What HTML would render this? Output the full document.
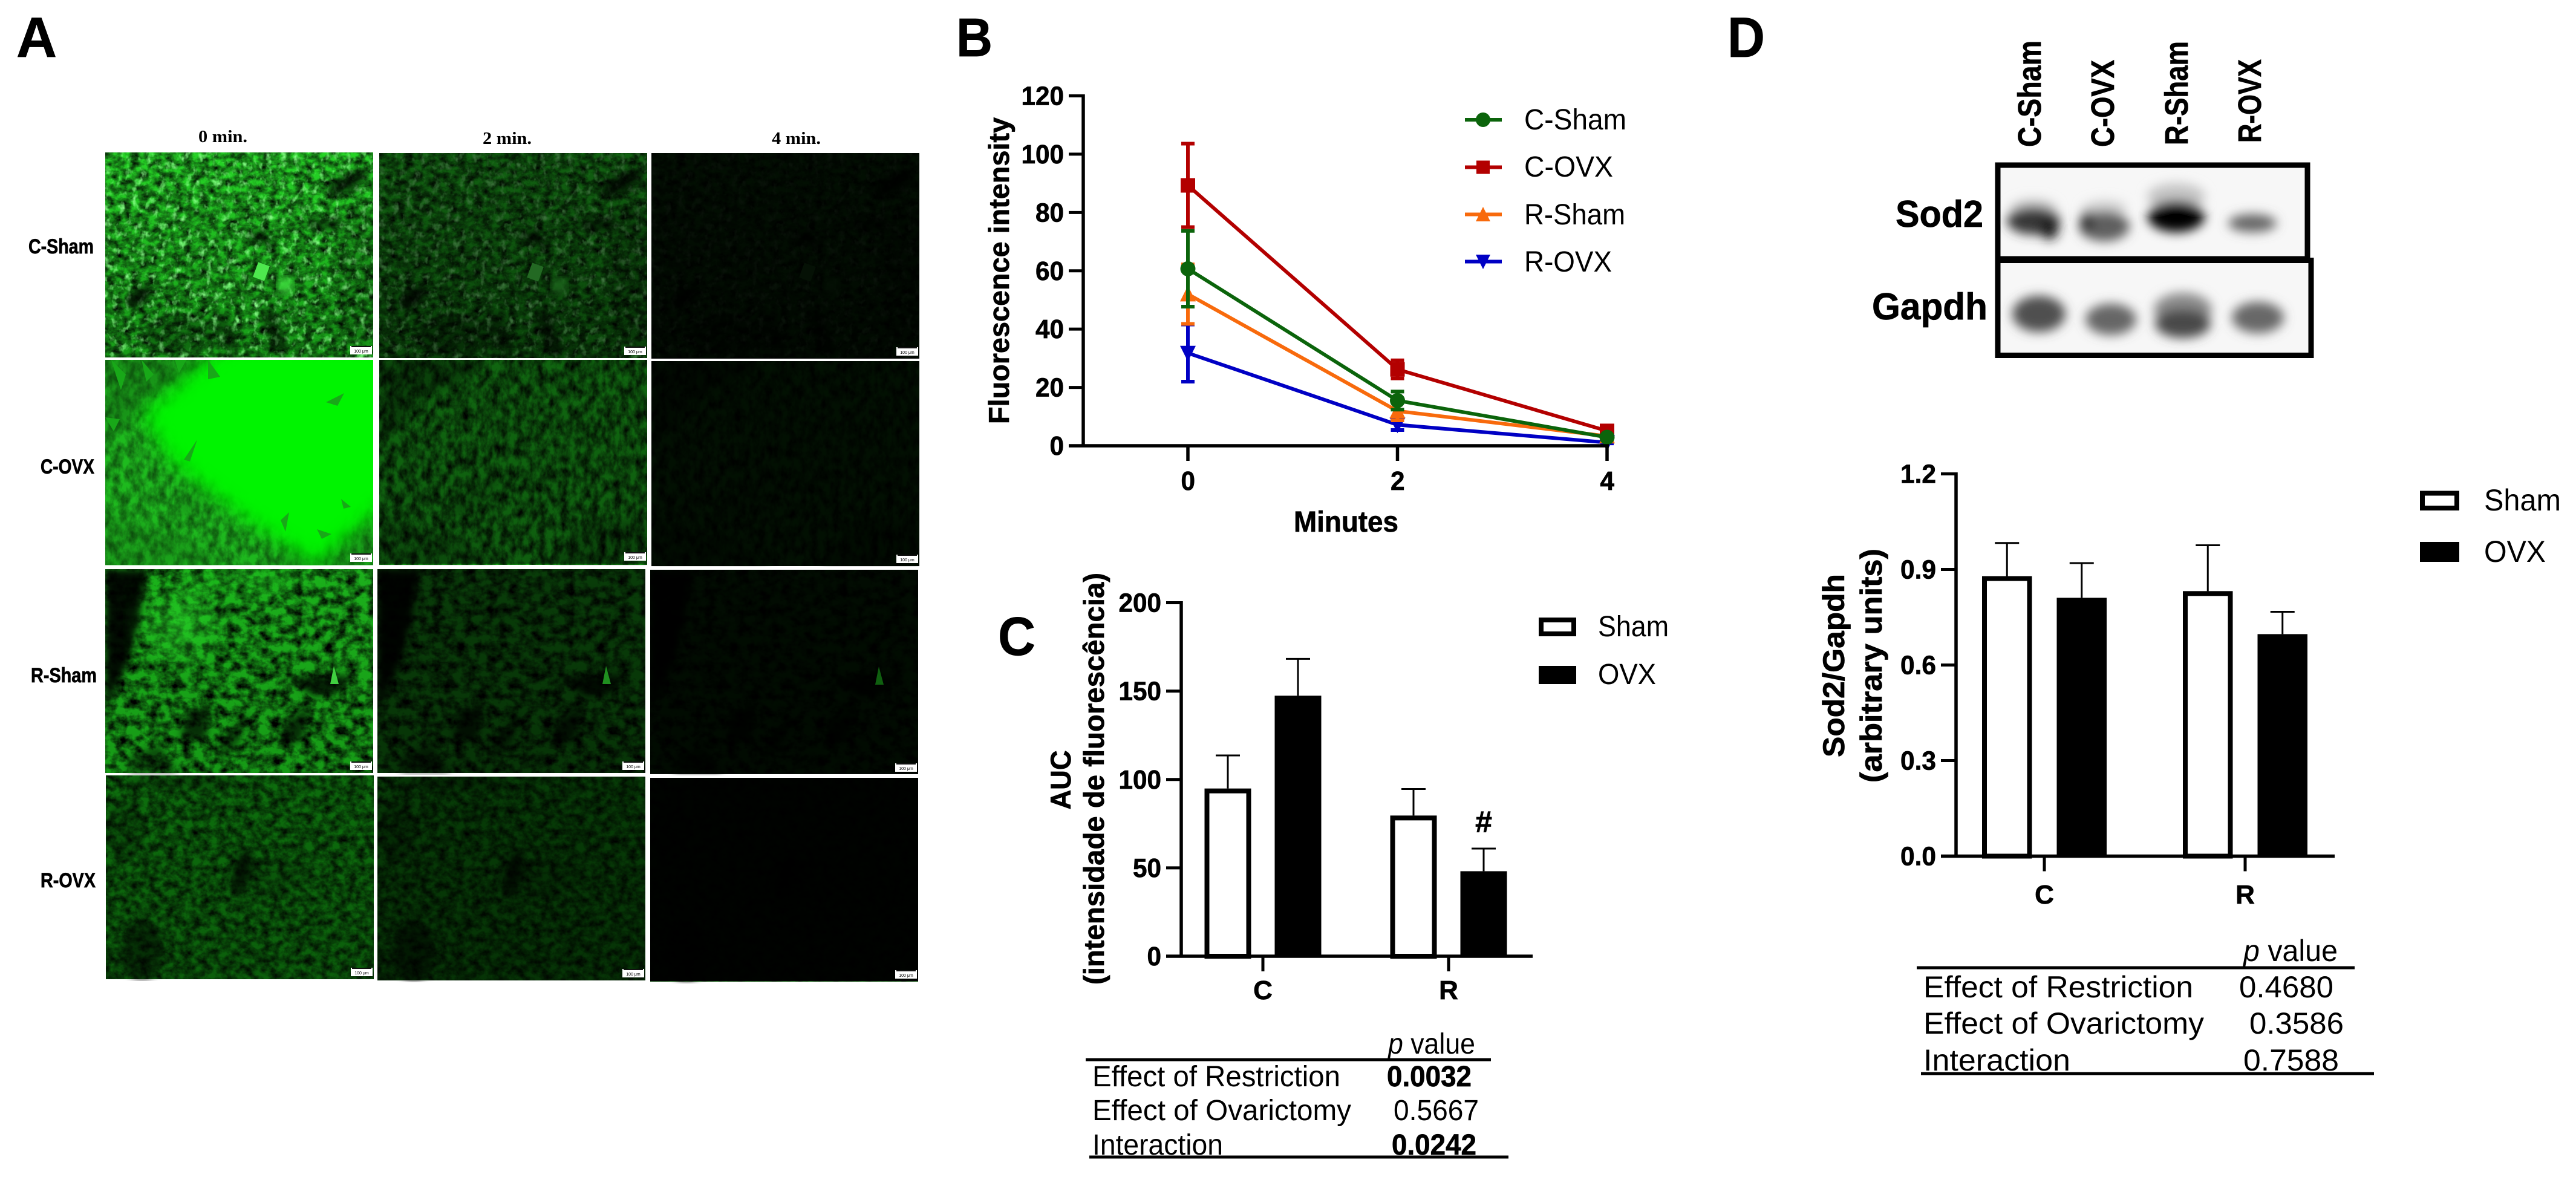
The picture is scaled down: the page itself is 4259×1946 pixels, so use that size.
<!DOCTYPE html>
<html lang="en">
<head>
<meta charset="utf-8">
<title>Fluorescence and Sod2 figure</title>
<style>
html,body{margin:0;padding:0;background:#fff;width:4259px;height:1946px;overflow:hidden}
svg{display:block}
text{font-family:"Liberation Sans",Arial,sans-serif;fill:#000}
.b{font-weight:700;stroke:#000;stroke-width:.7px}
.s{font-family:"Liberation Serif",serif;font-weight:700}
</style>
</head>
<body>
<svg id="fig" xmlns="http://www.w3.org/2000/svg" width="4259" height="1946" viewBox="0 0 4259 1946">
<defs>
<clipPath id="cp"><rect width="443" height="340"/></clipPath>
<filter id="noise" x="0" y="0" width="100%" height="100%"><feTurbulence type="fractalNoise" baseFrequency="0.07 0.09" numOctaves="4" seed="4"/><feColorMatrix type="matrix" values="0 0 0 0 0 0 0 0 0 0 0 0 0 0 0 1.6 0 0 0 -0.45"/></filter>
<filter id="spark" x="0" y="0" width="100%" height="100%"><feTurbulence type="fractalNoise" baseFrequency="0.09 0.07" numOctaves="3" seed="9"/><feColorMatrix type="matrix" values="0 0 0 0 0.25 0 0 0 0 1 0 0 0 0 0.25 0 3 0 0 -1.65"/></filter>
<filter id="noise2" x="0" y="0" width="100%" height="100%"><feTurbulence type="fractalNoise" baseFrequency="0.08 0.05" numOctaves="4" seed="11"/><feColorMatrix type="matrix" values="0 0 0 0 0 0 0 0 0 0 0 0 0 0 0 1.6 0 0 0 -0.45"/></filter>
<filter id="noise3" x="0" y="0" width="100%" height="100%"><feTurbulence type="fractalNoise" baseFrequency="0.055 0.065" numOctaves="4" seed="23"/><feColorMatrix type="matrix" values="0 0 0 0 0 0 0 0 0 0 0 0 0 0 0 2 0 0 0 -0.65"/></filter>
<filter id="noise4" x="0" y="0" width="100%" height="100%"><feTurbulence type="fractalNoise" baseFrequency="0.07 0.08" numOctaves="4" seed="37"/><feColorMatrix type="matrix" values="0 0 0 0 0 0 0 0 0 0 0 0 0 0 0 1.5 0 0 0 -0.4"/></filter>
<filter id="blur6"><feGaussianBlur stdDeviation="6"/></filter>
<filter id="blur9" x="-40%" y="-60%" width="180%" height="220%"><feGaussianBlur stdDeviation="9"/></filter>
<filter id="blur15" x="-30%" y="-30%" width="160%" height="160%"><feGaussianBlur stdDeviation="15"/></filter>
<filter id="blur25" x="-30%" y="-30%" width="160%" height="160%"><feGaussianBlur stdDeviation="25"/></filter>
<linearGradient id="g1" x1="0" y1="0" x2="0" y2="1"><stop offset="0" stop-color="#26d426"/><stop offset="1" stop-color="#189a18"/></linearGradient>
<linearGradient id="g2" x1="0" y1="0" x2="0" y2="1"><stop offset="0" stop-color="#1eb81e"/><stop offset="1" stop-color="#1cac1c"/></linearGradient>
<linearGradient id="g3" x1="0" y1="0" x2="0" y2="1"><stop offset="0" stop-color="#1cb01c"/><stop offset="1" stop-color="#169a16"/></linearGradient>
<linearGradient id="g4" x1="0" y1="0" x2="0" y2="1"><stop offset="0" stop-color="#0d6e0d"/><stop offset="1" stop-color="#0b5e0b"/></linearGradient>
<g id="t1">
<rect width="443" height="339" fill="url(#g1)"/>
<rect width="443" height="339" filter="url(#noise)"/>
<rect width="443" height="339" filter="url(#spark)"/>
<g filter="url(#blur6)">
<ellipse cx="400" cy="50" rx="40" ry="14" fill="#000" opacity=".75" transform="rotate(-28 400 50)"/>
<ellipse cx="362" cy="118" rx="30" ry="12" fill="#000" opacity=".55"/>
<path d="M225 135 L262 128 L285 165 L262 150Z" fill="#000" opacity=".7"/>
<ellipse cx="55" cy="239" rx="25" ry="13" fill="#000" opacity=".8" transform="rotate(-35 55 239)"/>
<ellipse cx="200" cy="300" rx="14" ry="38" fill="#000" opacity=".45" transform="rotate(-20 200 300)"/>
<ellipse cx="280" cy="295" rx="14" ry="42" fill="#000" opacity=".55" transform="rotate(-22 280 295)"/>
<ellipse cx="120" cy="300" rx="60" ry="35" fill="#000" opacity=".3"/>
<ellipse cx="420" cy="200" rx="40" ry="120" fill="#000" opacity=".2"/>
</g>
<rect x="248" y="184" width="20" height="26" fill="#4ee84e" transform="rotate(20 258 197)"/>
<ellipse cx="298" cy="220" rx="13" ry="14" fill="#3ad43a" filter="url(#blur6)"/>
</g>
<g id="t2">
<rect width="443" height="339" fill="url(#g2)"/>
<rect width="443" height="339" filter="url(#noise2)"/>
<g filter="url(#blur6)">
<path d="M0 0H180L130 40 80 55 40 100 0 140Z" fill="#000" opacity=".35"/>
<path d="M120 240 L190 195 L200 200 L130 260Z" fill="#000" opacity=".25"/>
<path d="M0 339 H200 L140 300 0 250Z" fill="#000" opacity=".2"/>
<path d="M280 339 L443 339 443 260 330 270Z" fill="#000" opacity=".25"/>
</g>
</g>
<g id="t3">
<rect width="443" height="337" fill="url(#g3)"/>
<rect width="443" height="337" filter="url(#noise3)"/>
<g filter="url(#blur6)">
<path d="M0 0H70L55 90 40 150 0 235Z" fill="#000" opacity=".92"/>
<path d="M300 180 L410 175 L380 205 345 210Z" fill="#000" opacity=".8"/>
<path d="M135 235 L175 225 L165 285 125 280Z" fill="#000" opacity=".7"/>
<path d="M300 250 L340 225 L325 285 285 290Z" fill="#000" opacity=".7"/>
<path d="M190 280 L240 235 L220 290 190 320Z" fill="#000" opacity=".5"/>
<path d="M40 310 L90 290 L120 337 40 337Z" fill="#000" opacity=".5"/>
</g>
</g>
<g id="t4">
<rect width="443" height="337" fill="url(#g4)"/>
<rect width="443" height="337" filter="url(#noise4)"/>
<g filter="url(#blur6)">
<ellipse cx="225" cy="160" rx="14" ry="40" fill="#000" opacity=".7" transform="rotate(15 225 160)"/>
<ellipse cx="60" cy="290" rx="34" ry="50" fill="#000" opacity=".5"/>
<ellipse cx="30" cy="90" rx="30" ry="50" fill="#000" opacity=".25"/>
<ellipse cx="280" cy="165" rx="60" ry="30" fill="#000" opacity=".15"/>
<ellipse cx="130" cy="10" rx="90" ry="10" fill="#000" opacity=".3"/>
</g>
</g>
<g id="sb">
<rect width="36" height="14" fill="#fff"/>
<rect x="2" width="32" height="2" fill="#111"/>
<text x="18" y="11" text-anchor="middle" font-size="7" style="font-family:'Liberation Sans',sans-serif">100 μm</text>
</g>
</defs>

<rect width="4259" height="1946" fill="#fff"/>

<!-- Panel letters -->
<text class="b" x="27" y="94" font-size="94" textLength="67" lengthAdjust="spacingAndGlyphs">A</text>
<text class="b" x="1581" y="93" font-size="90" textLength="60" lengthAdjust="spacingAndGlyphs">B</text>
<text class="b" x="1650" y="1083" font-size="90" textLength="62" lengthAdjust="spacingAndGlyphs">C</text>
<text class="b" x="2856" y="94" font-size="94" textLength="62" lengthAdjust="spacingAndGlyphs">D</text>

<!-- Panel A -->
<g>
<text class="s" x="328" y="235" font-size="29" textLength="81" lengthAdjust="spacingAndGlyphs">0 min.</text>
<text class="s" x="798" y="238" font-size="29" textLength="81" lengthAdjust="spacingAndGlyphs">2 min.</text>
<text class="s" x="1276" y="238" font-size="29" textLength="81" lengthAdjust="spacingAndGlyphs">4 min.</text>
<text class="b" x="47" y="419" font-size="34" textLength="108" lengthAdjust="spacingAndGlyphs">C-Sham</text>
<text class="b" x="67" y="783" font-size="34" textLength="89" lengthAdjust="spacingAndGlyphs">C-OVX</text>
<text class="b" x="51" y="1128" font-size="34" textLength="109" lengthAdjust="spacingAndGlyphs">R-Sham</text>
<text class="b" x="67" y="1467" font-size="34" textLength="91" lengthAdjust="spacingAndGlyphs">R-OVX</text>

<g transform="translate(174 252)" clip-path="url(#cp)"><use href="#t1"/><use href="#sb" x="405" y="320"/></g>
<g transform="translate(627 253)" clip-path="url(#cp)"><use href="#t1"/><rect width="443" height="339" fill="#000" opacity=".55"/><use href="#sb" x="405" y="320"/></g>
<g transform="translate(1077 253)" clip-path="url(#cp)"><use href="#t1"/><rect width="443" height="340" fill="#000" opacity=".93"/><use href="#sb" x="405" y="321"/></g>

<g transform="translate(174 595)" clip-path="url(#cp)"><use href="#t2"/><rect width="443" height="340" fill="#22cc22" opacity=".35"/><path d="M205 -30H473V230L350 339 240 270 110 170 60 90Z" fill="#00f400" filter="url(#blur15)"/><g fill="#18a818"><path d="M10 0L34 24 26 50 18 26Z"/><path d="M60 0L80 24 68 36Z"/><path d="M115 0L134 0 122 22Z"/><path d="M170 0L190 28 170 32Z"/><path d="M0 95L24 98 14 118Z"/><path d="M130 165L152 132 140 168Z"/><path d="M365 70L395 55 384 76Z"/><path d="M290 265L304 252 298 284Z"/><path d="M350 280L374 288 358 296Z"/><path d="M390 230L406 243 394 246Z"/></g><use href="#sb" x="405" y="320"/></g>
<g transform="translate(627 595)" clip-path="url(#cp)"><use href="#t2"/><rect width="443" height="337" fill="#000" opacity=".45"/><use href="#sb" x="405" y="318"/></g>
<g transform="translate(1077 597)" clip-path="url(#cp)"><use href="#t2"/><rect width="443" height="339" fill="#000" opacity=".91"/><use href="#sb" x="405" y="320"/></g>

<g transform="translate(174 941)" clip-path="url(#cp)"><use href="#t3"/><ellipse cx="125" cy="92" rx="60" ry="55" fill="#2ee82e" opacity=".4" filter="url(#blur25)"/><ellipse cx="230" cy="15" rx="110" ry="25" fill="#22d022" opacity=".35" filter="url(#blur25)"/><path d="M378 160 L386 190 L372 190Z" fill="#40d040"/><use href="#sb" x="405" y="318"/></g>
<g transform="translate(624 941)" clip-path="url(#cp)"><use href="#t3"/><rect width="443" height="337" fill="#000" opacity=".66"/><path d="M378 160 L386 190 L372 190Z" fill="#1f8f1f"/><use href="#sb" x="405" y="318"/></g>
<g transform="translate(1075 942)" clip-path="url(#cp)"><use href="#t3"/><rect width="443" height="338" fill="#000" opacity=".93"/><path d="M378 160 L386 190 L372 190Z" fill="#0f5f0f"/><use href="#sb" x="405" y="320"/></g>

<g transform="translate(175 1282)" clip-path="url(#cp)"><use href="#t4"/><use href="#sb" x="405" y="318"/></g>
<g transform="translate(624 1284)" clip-path="url(#cp)"><use href="#t4"/><rect width="443" height="337" fill="#000" opacity=".45"/><use href="#sb" x="405" y="318"/></g>
<g transform="translate(1075 1286)" clip-path="url(#cp)"><use href="#t4"/><rect width="443" height="336" fill="#000" opacity=".97"/><use href="#sb" x="405" y="318"/></g>
</g>

<!-- Panel B static -->
<g>
<text class="b" transform="translate(1668 701) rotate(-90)" font-size="47" textLength="507" lengthAdjust="spacingAndGlyphs">Fluorescence intensity</text>
<text class="b" x="2139" y="879" font-size="48" textLength="173" lengthAdjust="spacingAndGlyphs">Minutes</text>
</g>
<g>
<g><line x1="2422" x2="2483" y1="198" y2="198" stroke="#0b640b" stroke-width="6"/><circle cx="2452" cy="198" r="12" fill="#0b640b"/><text x="2520" y="214" font-size="48" textLength="169" lengthAdjust="spacingAndGlyphs">C-Sham</text></g>
<g><line x1="2422" x2="2483" y1="276.500" y2="276.500" stroke="#b30000" stroke-width="6"/><rect x="2441" y="265.500" width="22" height="22" fill="#b30000"/><text x="2520" y="292" font-size="48" textLength="147" lengthAdjust="spacingAndGlyphs">C-OVX</text></g>
<g><line x1="2422" x2="2483" y1="354.500" y2="354.500" stroke="#f86a0c" stroke-width="6"/><path d="M2452 342 L2464 366 H2440Z" fill="#f86a0c"/><text x="2520" y="371" font-size="48" textLength="167" lengthAdjust="spacingAndGlyphs">R-Sham</text></g>
<g><line x1="2422" x2="2483" y1="432.500" y2="432.500" stroke="#0000c4" stroke-width="6"/><path d="M2452 445 L2464 421 H2440Z" fill="#0000c4"/><text x="2520" y="449" font-size="48" textLength="145" lengthAdjust="spacingAndGlyphs">R-OVX</text></g>
</g>

<!-- Panel C static -->
<g>
<text class="b" transform="translate(1770 1338.500) rotate(-90)" font-size="47" textLength="98" lengthAdjust="spacingAndGlyphs">AUC</text>
<text class="b" transform="translate(1825 1628) rotate(-90)" font-size="47" textLength="681" lengthAdjust="spacingAndGlyphs">(intensidade de fluorescência)</text>
<text class="b" x="2453" y="1376" font-size="50" text-anchor="middle">#</text>
<rect x="2548" y="1025" width="54" height="23" fill="#fff" stroke="#000" stroke-width="8"/>
<text x="2642" y="1052" font-size="48" textLength="117" lengthAdjust="spacingAndGlyphs">Sham</text>
<rect x="2544" y="1101" width="62" height="30" fill="#000"/>
<text x="2642" y="1131" font-size="48" textLength="96" lengthAdjust="spacingAndGlyphs">OVX</text>
</g>
<g>
<text x="2295" y="1742" font-size="48" textLength="144" lengthAdjust="spacingAndGlyphs"><tspan font-style="italic">p</tspan> value</text>
<line x1="1795" x2="2465" y1="1752" y2="1752" stroke="#000" stroke-width="5"/>
<text x="1806" y="1796" font-size="48" textLength="410" lengthAdjust="spacingAndGlyphs">Effect of Restriction</text>
<text class="b" x="2293" y="1796" font-size="48" textLength="140" lengthAdjust="spacingAndGlyphs">0.0032</text>
<text x="1806" y="1852" font-size="48" textLength="428" lengthAdjust="spacingAndGlyphs">Effect of Ovarictomy</text>
<text x="2304" y="1852" font-size="48" textLength="141" lengthAdjust="spacingAndGlyphs">0.5667</text>
<text x="1806" y="1909" font-size="48" textLength="216" lengthAdjust="spacingAndGlyphs">Interaction</text>
<text class="b" x="2301" y="1909" font-size="48" textLength="140" lengthAdjust="spacingAndGlyphs">0.0242</text>
<line x1="1801" x2="2494" y1="1913" y2="1913" stroke="#000" stroke-width="5"/>
</g>

<!-- Panel D blot -->
<g>
<text class="b" transform="translate(3374 243) rotate(-90)" font-size="54" textLength="176" lengthAdjust="spacingAndGlyphs">C-Sham</text>
<text class="b" transform="translate(3495 243) rotate(-90)" font-size="54" textLength="144" lengthAdjust="spacingAndGlyphs">C-OVX</text>
<text class="b" transform="translate(3617 240) rotate(-90)" font-size="54" textLength="172" lengthAdjust="spacingAndGlyphs">R-Sham</text>
<text class="b" transform="translate(3738 236) rotate(-90)" font-size="54" textLength="138" lengthAdjust="spacingAndGlyphs">R-OVX</text>
<text class="b" x="3134" y="375" font-size="62" textLength="145" lengthAdjust="spacingAndGlyphs">Sod2</text>
<text class="b" x="3095" y="528" font-size="62" textLength="191" lengthAdjust="spacingAndGlyphs">Gapdh</text>
<g>
<rect x="3303" y="273" width="512" height="155" fill="#f7f7f7" stroke="#000" stroke-width="9"/>
<g filter="url(#blur9)">
<ellipse cx="3362" cy="345" rx="38" ry="16" fill="#c8c8c8"/>
<ellipse cx="3598" cy="325" rx="48" ry="22" fill="#c4c4c4"/>
<ellipse cx="3480" cy="345" rx="36" ry="14" fill="#d0d0d0"/>
<ellipse cx="3362" cy="365" rx="44" ry="23" fill="#383838"/>
<ellipse cx="3388" cy="378" rx="16" ry="18" fill="#1c1c1c"/>
<ellipse cx="3479" cy="374" rx="42" ry="25" fill="#5e5e5e"/>
<ellipse cx="3450" cy="366" rx="10" ry="18" fill="#2a2a2a"/>
<ellipse cx="3598" cy="358" rx="47" ry="26" fill="#000"/>
<ellipse cx="3724" cy="369" rx="40" ry="15" fill="#666"/>
</g>
</g>
<g>
<rect x="3303" y="430.500" width="518" height="157" fill="#f7f7f7" stroke="#000" stroke-width="9"/>
<g filter="url(#blur9)">
<ellipse cx="3371" cy="519" rx="44" ry="30" fill="#505050"/>
<ellipse cx="3490" cy="528" rx="42" ry="26" fill="#666"/>
<ellipse cx="3609" cy="512" rx="48" ry="28" fill="#8a8a8a"/>
<ellipse cx="3609" cy="535" rx="46" ry="24" fill="#484848"/>
<ellipse cx="3733" cy="525" rx="43" ry="26" fill="#686868"/>
</g>
</g>
</g>

<!-- Panel D chart static -->
<g>
<text class="b" transform="translate(3049 1252) rotate(-90)" font-size="50" textLength="303" lengthAdjust="spacingAndGlyphs">Sod2/Gapdh</text>
<text class="b" transform="translate(3111 1294) rotate(-90)" font-size="50" textLength="387" lengthAdjust="spacingAndGlyphs">(arbitrary units)</text>
<rect x="4005" y="815.500" width="57" height="24.500" fill="#fff" stroke="#000" stroke-width="8"/>
<text x="4107" y="844" font-size="50" textLength="127" lengthAdjust="spacingAndGlyphs">Sham</text>
<rect x="4001" y="896" width="65" height="33" fill="#000"/>
<text x="4107" y="929" font-size="50" textLength="102" lengthAdjust="spacingAndGlyphs">OVX</text>
</g>
<g>
<text x="3709" y="1589" font-size="50" textLength="156" lengthAdjust="spacingAndGlyphs"><tspan font-style="italic">p</tspan> value</text>
<line x1="3169" x2="3893" y1="1600" y2="1600" stroke="#000" stroke-width="5"/>
<text x="3180" y="1649" font-size="50" textLength="446" lengthAdjust="spacingAndGlyphs">Effect of Restriction</text>
<text x="3702" y="1649" font-size="50" textLength="156" lengthAdjust="spacingAndGlyphs">0.4680</text>
<text x="3180" y="1709" font-size="50" textLength="464" lengthAdjust="spacingAndGlyphs">Effect of Ovarictomy</text>
<text x="3719" y="1709" font-size="50" textLength="156" lengthAdjust="spacingAndGlyphs">0.3586</text>
<text x="3180" y="1770" font-size="50" textLength="243" lengthAdjust="spacingAndGlyphs">Interaction</text>
<text x="3709" y="1770" font-size="50" textLength="158" lengthAdjust="spacingAndGlyphs">0.7588</text>
<line x1="3176" x2="3925" y1="1775" y2="1775" stroke="#000" stroke-width="5"/>
</g>

<g id="charts"></g>
</svg>

<script>
// Panel B data
const minutes = [0, 2, 4];
const lineTicks = [0, 20, 40, 60, 80, 100, 120];
const rOvxMeans = [31.8, 7.2, 1.1];
const rOvxErrors = [9.8, 1.8, 0.3];
const rShamMeans = [52, 11.9, 3.3];
const rShamErrors = [10.2, 3.2, 0.4];
const cOvxMeans = [89.3, 26.2, 5.1];
const cOvxErrors = [14.3, 3.1, 0.6];
const cShamMeans = [60.7, 15.5, 2.9];
const cShamErrors = [13, 3.1, 0.5];

// Panel C data
const aucGroups = ['C', 'R'];
const aucTicks = [0, 50, 100, 150, 200];
const aucSham = [94.9, 79.6];
const aucShamErr = [18.7, 15];
const aucOvx = [147.4, 48.1];
const aucOvxErr = [20.8, 12.8];

// Panel D data
const sodGroups = ['C', 'R'];
const sodTicks = ['0.0', '0.3', '0.6', '0.9', '1.2'];
const sodSham = [0.879, 0.832];
const sodShamErr = [0.104, 0.144];
const sodOvx = [0.811, 0.697];
const sodOvxErr = [0.109, 0.07];

const NS = 'http://www.w3.org/2000/svg';
const root = document.getElementById('charts');
function mk(tag, attrs, parent) {
  const n = document.createElementNS(NS, tag);
  for (const k in attrs) n.setAttribute(k, attrs[k]);
  parent.appendChild(n);
  return n;
}
function labelWidth(s) {
  let w = 0;
  for (const c of String(s)) w += c === '.' ? 12 : 23.5;
  return w;
}
const tickFont = { 'font-size': 44, 'font-weight': 700, stroke: '#000', 'stroke-width': 0.7 };

/* ---------- Panel B ---------- */
const xB = t => 1964 + t * (2657 - 1964) / 4;
const yB = v => 737 - v * (737 - 158.5) / 120;
const gB = mk('g', {}, root);



function errorBars(means, errs, color, parent) {
  means.forEach((m, i) => {
    const x = xB(minutes[i]);
    const v = mk('path', {
      d: 'M' + (x - 11) + ' ' + yB(m + errs[i]) + 'H' + (x + 11) +
         'M' + x + ' ' + yB(m + errs[i]) + 'V' + yB(m - errs[i]) +
         'M' + (x - 11) + ' ' + yB(m - errs[i]) + 'H' + (x + 11),
      fill: 'none', stroke: color, 'stroke-width': 6
    }, parent);
    
    
  });
}
function seriesLine(means, color, parent) {
  const pts = means.map((m, i) => xB(minutes[i]) + ',' + yB(m)).join(' ');
  const l = mk('polyline', { points: pts, fill: 'none', stroke: color, 'stroke-width': 6 }, parent);
  
  
}
function markerShape(kind, x, y, color, parent) {
  let p;
  if (kind === 'circle') p = mk('circle', { cx: x, cy: y, r: 12.5, fill: color }, parent);
  if (kind === 'square') p = mk('rect', { x: x - 12, y: y - 12, width: 24, height: 24, fill: color }, parent);
  if (kind === 'up') p = mk('path', { d: 'M' + x + ' ' + (y - 14) + 'L' + (x + 13) + ' ' + (y + 12) + 'H' + (x - 13) + 'Z', fill: color }, parent);
  if (kind === 'down') p = mk('path', { d: 'M' + x + ' ' + (y + 14) + 'L' + (x + 13) + ' ' + (y - 12) + 'H' + (x - 13) + 'Z', fill: color }, parent);
  return p;
}
function drawSeries(means, errs, color, kind) {
  const g = mk('g', {}, gB);
  
  
  errorBars(means, errs, color, g);
  seriesLine(means, color, g);
  means.forEach((m, i) => {
    const p = markerShape(kind, xB(minutes[i]), yB(m), color, g);
    
    
  });
}
drawSeries(rOvxMeans, rOvxErrors, '#0000c4', 'down');
drawSeries(rShamMeans, rShamErrors, '#f86a0c', 'up');
drawSeries(cOvxMeans, cOvxErrors, '#b30000', 'square');
drawSeries(cShamMeans, cShamErrors, '#0b640b', 'circle');

const yAxisB = mk('path', { d: 'M1791 156V739.500M1767 737H' + (xB(4) + 3), fill: 'none', stroke: '#000', 'stroke-width': 5.5 }, gB);


lineTicks.forEach(t => {
  const tick = mk('line', { x1: 1767, x2: 1791, y1: yB(t), y2: yB(t), stroke: '#000', 'stroke-width': 5 }, gB);
  
  
  const lab = mk('text', Object.assign({ x: 1759, y: yB(t) + 15, 'text-anchor': 'end', textLength: labelWidth(t), lengthAdjust: 'spacingAndGlyphs' }, tickFont), gB);
  lab.textContent = t;
  
  
});
minutes.forEach(t => {
  const tick = mk('line', { x1: xB(t), x2: xB(t), y1: 737, y2: 762, stroke: '#000', 'stroke-width': 5.5 }, gB);
  
  
  const lab = mk('text', Object.assign({ x: xB(t) - 11.5, y: 810, textLength: labelWidth(t), lengthAdjust: 'spacingAndGlyphs' }, tickFont), gB);
  lab.textContent = t;
  
  
});

/* ---------- Bar charts C and D ---------- */
function drawBars(cfg) {
  const g = mk('g', {}, root);
  
  
  const y = v => cfg.y0 - v * (cfg.y0 - cfg.yTop) / cfg.max;
  const W = cfg.barW;
  cfg.groups.forEach((label, i) => {
    const cx = cfg.groupX(i);
    const xS = cx - W - cfg.gap / 2;
    const xO = cx + cfg.gap / 2;
    [[xS, cfg.sham[i], cfg.shamErr[i]], [xO, cfg.ovx[i], cfg.ovxErr[i]]].forEach(row => {
      const ex = row[0] + W / 2;
      const e = mk('path', { d: 'M' + ex + ' ' + y(row[1]) + 'V' + y(row[1] + row[2]) + 'M' + (ex - 20) + ' ' + y(row[1] + row[2]) + 'H' + (ex + 20), fill: 'none', stroke: '#000', 'stroke-width': 3 }, g);
      
      
    });
    const r1 = mk('rect', { x: xS + 4, y: y(cfg.sham[i]) + 4, width: W - 8, height: cfg.y0 - y(cfg.sham[i]) - 4, fill: '#fff', stroke: '#000', 'stroke-width': 8 }, g);
    
    
    const r2 = mk('rect', { x: xO, y: y(cfg.ovx[i]), width: W, height: cfg.y0 - y(cfg.ovx[i]), fill: '#000' }, g);
    
    
    const tick = mk('line', { x1: cx, x2: cx, y1: cfg.y0, y2: cfg.y0 + 25, stroke: '#000', 'stroke-width': 5 }, g);
    
    
    const lab = mk('text', Object.assign({ x: cx, y: cfg.catY, 'text-anchor': 'middle' }, tickFont), g);
    lab.textContent = label;
    
    
  });
  const ax = mk('path', { d: 'M' + cfg.axisX + ' ' + (cfg.yTop - 2.5) + 'V' + (cfg.y0 + 2.5) + 'M' + (cfg.axisX - 25) + ' ' + cfg.y0 + 'H' + cfg.axisEnd, fill: 'none', stroke: '#000', 'stroke-width': 5.5 }, g);
  
  
  cfg.ticks.forEach(t => {
    const yy = y(parseFloat(t));
    const tick = mk('line', { x1: cfg.axisX - 25, x2: cfg.axisX, y1: yy, y2: yy, stroke: '#000', 'stroke-width': 5 }, g);
    
    
    const lab = mk('text', Object.assign({ x: cfg.axisX - 33, y: yy + 15, 'text-anchor': 'end', textLength: labelWidth(t), lengthAdjust: 'spacingAndGlyphs' }, tickFont), g);
    lab.textContent = t;
    
    
  });
}

drawBars({
  name: 'auc-bar-chart', groups: aucGroups, sham: aucSham, shamErr: aucShamErr, ovx: aucOvx, ovxErr: aucOvxErr,
  ticks: aucTicks, max: 200, y0: 1581, yTop: 996.5, axisX: 1953, axisEnd: 2534, catY: 1652, barW: 77, gap: 39,
  groupX: i => 2088 + i * 307
});
drawBars({
  name: 'sod2-bar-chart', groups: sodGroups, sham: sodSham, shamErr: sodShamErr, ovx: sodOvx, ovxErr: sodOvxErr,
  ticks: sodTicks, max: 1.2, y0: 1415.5, yTop: 783.5, axisX: 3234, axisEnd: 3860, catY: 1494, barW: 82.5, gap: 41,
  groupX: i => 3380 + i * 332
});
</script>
</body>
</html>
